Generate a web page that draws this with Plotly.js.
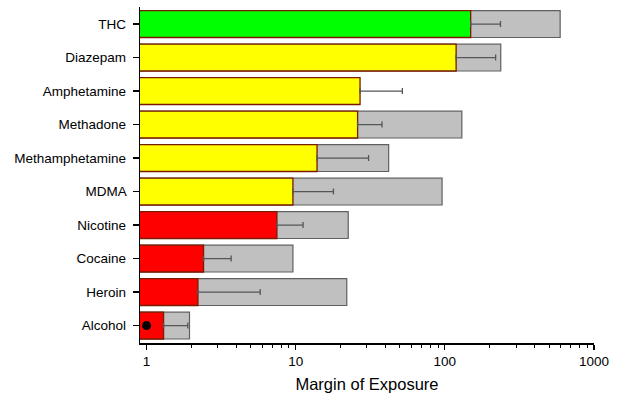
<!DOCTYPE html>
<html>
<head>
<meta charset="utf-8">
<script src="https://cdn.plot.ly/plotly-3.0.1.min.js"></script>
<style>html,body{margin:0;padding:0;background:#fff;}#chart{width:628px;height:399px;}</style>
</head>
<body>
<div id="chart"></div>
<script>
const drugs = ["Alcohol","Heroin","Cocaine","Nicotine","MDMA","Methamphetamine","Methadone","Amphetamine","Diazepam","THC"];
const moeValues = [1.30, 2.21, 2.41, 7.48, 9.58, 13.9, 26, 27, 119, 149];
const moeUpper = [1.89, 5.78, 3.69, 11.2, 17.9, 30.8, 37.9, 51.9, 219, 236];
const rangeMax = [1.94, 22, 9.58, 22.5, 95.8, 42, 130, 0, 237, 593];
const barColors = ["#ff0000","#ff0000","#ff0000","#ff0000","#ffff00","#ffff00","#ffff00","#ffff00","#ffff00","#00ff00"];
const dotDrug = ["Alcohol"];
const dotValue = [1];

const errPlus = moeUpper.map((u, i) => u - moeValues[i]);
const errMinus = moeValues.map(() => 0);

const traces = [
  {
    type: "bar", orientation: "h", y: drugs, x: rangeMax,
    marker: {color: "#c0c0c0", line: {color: "#606060", width: 1.2}},
    width: 0.8, hoverinfo: "skip", showlegend: false
  },
  {
    type: "bar", orientation: "h", y: drugs, x: moeValues,
    marker: {color: barColors, line: {color: "#7a1a00", width: 1.3}},
    width: 0.8, showlegend: false,
    error_x: {type: "data", symmetric: false, array: errPlus, arrayminus: errMinus,
              color: "#555555", thickness: 1.3, width: 3}
  },
  {
    type: "scatter", mode: "markers", y: dotDrug, x: dotValue,
    marker: {color: "#000000", size: 9}, showlegend: false
  }
];

const layout = {
  width: 628, height: 399,
  margin: {l: 140, r: 34, t: 7, b: 56},
  paper_bgcolor: "#ffffff", plot_bgcolor: "#ffffff",
  barmode: "overlay",
  font: {family: "Liberation Sans, Arial, sans-serif", size: 13.5, color: "#000"},
  xaxis: {
    type: "log", range: [-0.044, 3], dtick: 1,
    showgrid: false, zeroline: false,
    showline: true, linecolor: "#000", linewidth: 1.5,
    ticks: "outside", ticklen: 5, tickwidth: 1.2, tickcolor: "#000",
    minor: {ticks: "outside", ticklen: 3, tickwidth: 1, tickcolor: "#000", dtick: "D1", showgrid: false},
    tickfont: {size: 13.5},
    title: {text: "Margin of Exposure", font: {size: 16.5}, standoff: 10}
  },
  yaxis: {
    type: "category", range: [-0.52, 9.51],
    showgrid: false, zeroline: false,
    showline: true, linecolor: "#000", linewidth: 1.5,
    ticks: "outside", ticklen: 6, tickwidth: 1.2, tickcolor: "#000",
    tickfont: {size: 13.5}, ticksuffix: " "
  }
};

Plotly.newPlot("chart", traces, layout, {displayModeBar: false, staticPlot: true});
</script>
</body>
</html>
